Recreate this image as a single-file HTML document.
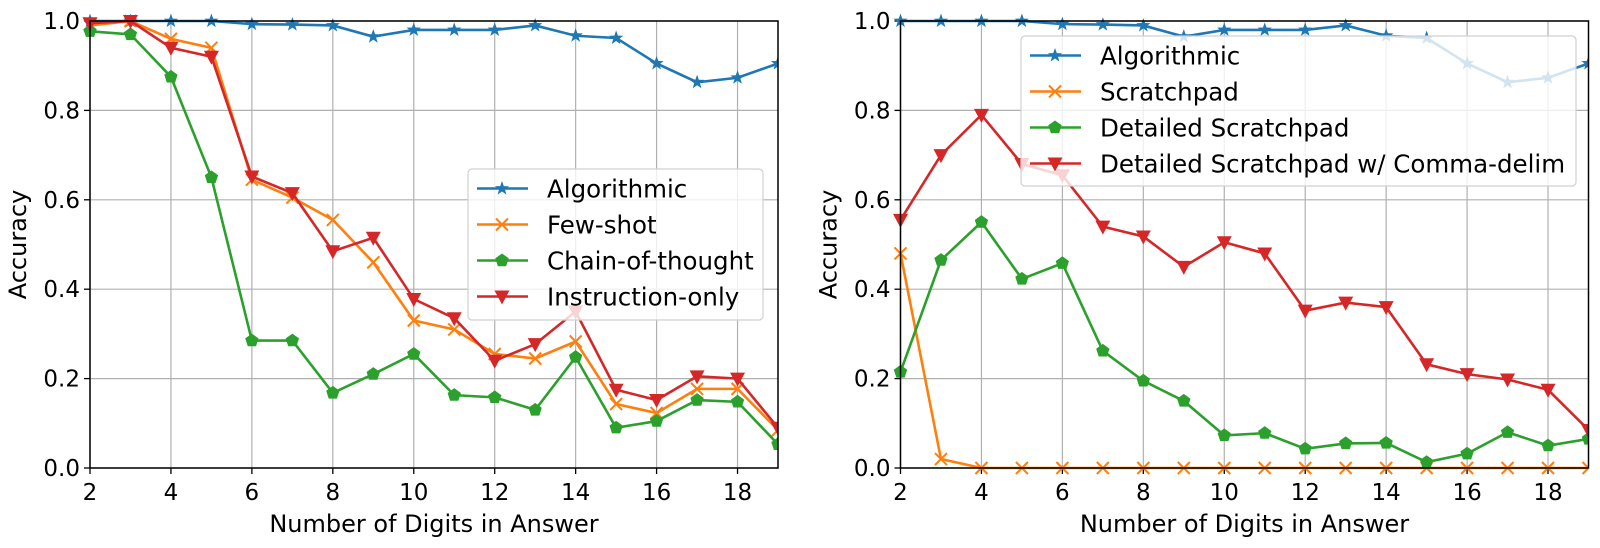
<!DOCTYPE html>
<html><head><meta charset="utf-8"><style>
body{margin:0;background:#fff;}
svg{display:block;font-family:"DejaVu Sans","Liberation Sans",sans-serif;}
</style></head><body>
<svg id="c" width="1600" height="548"></svg>
<script>
const digits=[2,3,4,5,6,7,8,9,10,11,12,13,14,15,16,17,18,19];
const xTicks=[2,4,6,8,10,12,14,16,18];
const yTicks=[0,0.2,0.4,0.6,0.8,1.0];
const yTickLabels=["0.0","0.2","0.4","0.6","0.8","1.0"];
const leftAlgorithmic=[1.0,1.0,1.0,1.0,0.993,0.992,0.99,0.965,0.98,0.98,0.98,0.99,0.967,0.962,0.905,0.863,0.873,0.905];
const leftFewShot=[0.99,1.0,0.96,0.94,0.645,0.605,0.555,0.46,0.33,0.31,0.255,0.245,0.283,0.143,0.123,0.177,0.177,0.085];
const leftCoT=[0.977,0.97,0.875,0.65,0.285,0.285,0.168,0.21,0.255,0.163,0.158,0.13,0.248,0.09,0.105,0.152,0.148,0.053];
const leftInstruction=[0.995,1.0,0.94,0.92,0.652,0.615,0.485,0.515,0.378,0.335,0.24,0.277,0.35,0.175,0.152,0.205,0.2,0.09];
const rightAlgorithmic=[1.0,1.0,1.0,1.0,0.993,0.992,0.99,0.965,0.98,0.98,0.98,0.99,0.967,0.962,0.905,0.863,0.873,0.905];
const rightScratchpad=[0.48,0.02,0,0,0,0,0,0,0,0,0,0,0,0,0,0,0,0];
const rightDetailed=[0.215,0.465,0.55,0.423,0.458,0.262,0.195,0.15,0.073,0.078,0.043,0.055,0.056,0.013,0.032,0.08,0.05,0.065];
const rightComma=[0.555,0.7,0.79,0.68,0.655,0.54,0.518,0.45,0.505,0.48,0.352,0.37,0.36,0.232,0.21,0.198,0.175,0.085];
const leftNames=["Algorithmic","Few-shot","Chain-of-thought","Instruction-only"];
const rightNames=["Algorithmic","Scratchpad","Detailed Scratchpad","Detailed Scratchpad w/ Comma-delim"];

const NS="http://www.w3.org/2000/svg";
const svg=document.getElementById('c');
const colors=["#1f77b4","#ff7f0e","#2ca02c","#d62728"];
const markers=["star","x","pent","tri"];
function mk(tag,attrs,parent){const e=document.createElementNS(NS,tag);for(const k in attrs)e.setAttribute(k,attrs[k]);(parent||svg).appendChild(e);return e;}
function markerShape(type,x,y,c,g){
  let e;
  if(type==="star"){let p=[];for(let i=0;i<10;i++){const r=i%2?3:7.5;const a=-Math.PI/2+i*Math.PI/5;p.push((x+r*Math.cos(a)).toFixed(1)+","+(y+r*Math.sin(a)).toFixed(1));}
    e=mk('polygon',{points:p.join(" "),fill:c},g);}
  else if(type==="x"){e=mk('path',{d:`M${x-6},${y-6}L${x+6},${y+6}M${x-6},${y+6}L${x+6},${y-6}`,stroke:c,'stroke-width':2,fill:'none'},g);}
  else if(type==="pent"){let p=[];for(let i=0;i<5;i++){const a=-Math.PI/2+i*2*Math.PI/5;p.push((x+7*Math.cos(a)).toFixed(1)+","+(y+7*Math.sin(a)).toFixed(1));}
    e=mk('polygon',{points:p.join(" "),fill:c},g);}
  else {e=mk('polygon',{points:`${x-7.5},${y-6} ${x+7.5},${y-6} ${x},${y+8}`,fill:c},g);}
  
  
}
function panel(x0,x1,series,names,legend,prefix){
  const y0=468,y1=21;
  const sx=v=>x0+(v-2)/(19-2)*(x1-x0);
  const sy=v=>y0-v*(y0-y1);
  const g=mk('g',{});
  
  
  xTicks.forEach(t=>{
    const l=mk('line',{x1:sx(t),x2:sx(t),y1:y1,y2:y0,stroke:'#b0b0b0','stroke-width':1.2},g);
    
    mk('line',{x1:sx(t),x2:sx(t),y1:y0,y2:y0+6,stroke:'#000','stroke-width':1.3},g);
    const tx=mk('text',{x:sx(t),y:y0+32,'text-anchor':'middle','font-size':23,fill:'#000'},g);tx.textContent=t;
    
  });
  yTicks.forEach((t,i)=>{
    const l=mk('line',{x1:x0,x2:x1,y1:sy(t),y2:sy(t),stroke:'#b0b0b0','stroke-width':1.2},g);
    
    mk('line',{x1:x0-6,x2:x0,y1:sy(t),y2:sy(t),stroke:'#000','stroke-width':1.3},g);
    const tx=mk('text',{x:x0-10,y:sy(t)+8,'text-anchor':'end','font-size':23,fill:'#000'},g);tx.textContent=yTickLabels[i];
    
  });
  const clip=mk('clipPath',{id:prefix+'clip'},g);mk('rect',{x:x0-9,y:y1-9,width:x1-x0+9,height:y0-y1+18},clip);
  series.forEach((s,si)=>{
    const sg=mk('g',{'clip-path':`url(#${prefix}clip)`},g);
    
    
    mk('polyline',{points:s.map((v,i)=>sx(digits[i])+","+sy(v)).join(" "),fill:'none',stroke:colors[si],'stroke-width':2.6},sg);
    s.forEach((v,i)=>markerShape(markers[si],sx(digits[i]),sy(v),colors[si],sg));
  });
  const fr=mk('rect',{x:x0,y:y1,width:x1-x0,height:y0-y1,fill:'none',stroke:'#000','stroke-width':1.5},g);
  
  const xl=mk('text',{x:(x0+x1)/2,y:532,'text-anchor':'middle','font-size':24,fill:'#000'},g);xl.textContent="Number of Digits in Answer";
  
  const yl=mk('text',{x:0,y:0,'text-anchor':'middle','font-size':24,fill:'#000',transform:`translate(${x0-64},${(y0+y1)/2}) rotate(-90)`},g);yl.textContent="Accuracy";
  
  const lg=mk('g',{},g);
  
  mk('rect',{x:legend.x,y:legend.y,width:legend.w,height:legend.h,rx:4,fill:'rgba(255,255,255,0.8)',stroke:'#d0d0d0','stroke-width':1.2},lg);
  names.forEach((n,i)=>{
    const yy=legend.y+19.5+i*36;
    const eg=mk('g',{},lg);
    
    mk('line',{x1:legend.x+9,x2:legend.x+60,y1:yy,y2:yy,stroke:colors[i],'stroke-width':2.6},eg);
    markerShape(markers[i],legend.x+34,yy,colors[i],eg);
    const t=mk('text',{x:legend.x+79,y:yy+9,'font-size':24.5,fill:'#000'},eg);t.textContent=n;
  });
}
panel(90,778,[leftAlgorithmic,leftFewShot,leftCoT,leftInstruction],leftNames,{x:468,y:169,w:295,h:151},'left');
panel(900.5,1588.5,[rightAlgorithmic,rightScratchpad,rightDetailed,rightComma],rightNames,{x:1021,y:36,w:555,h:150},'right');
</script>
</body></html>
